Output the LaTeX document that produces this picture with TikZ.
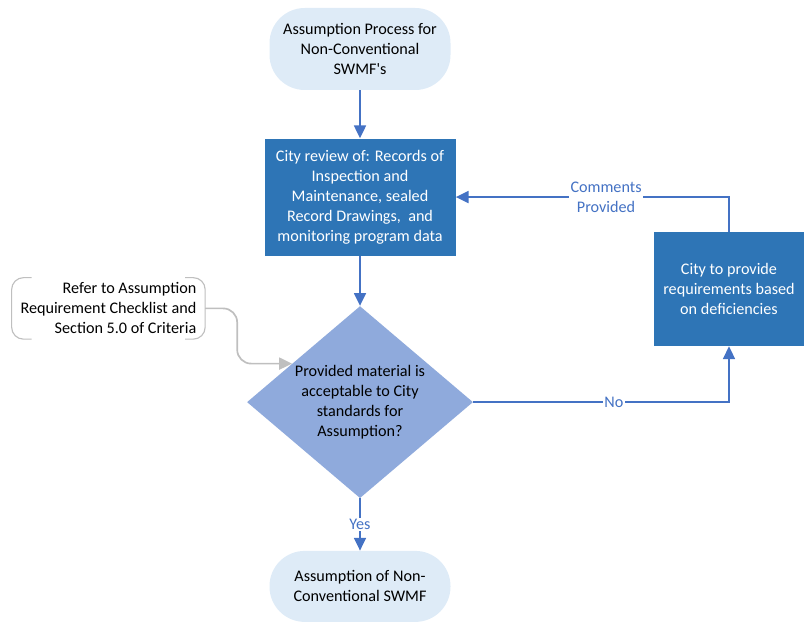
\documentclass[tikz,border=0pt]{standalone}
\usepackage{fontspec}
\setmainfont{Carlito}
\usetikzlibrary{positioning,arrows.meta,calc,shapes.geometric}
\definecolor{TermFill}{RGB}{222,235,247}
\definecolor{StepBlue}{RGB}{46,117,182}
\definecolor{DecFill}{RGB}{143,170,220}
\definecolor{LineBlue}{RGB}{68,114,196}
\definecolor{NoteGrey}{RGB}{191,191,191}
\tikzset{
  flow/.style={-{Triangle[length=3.2mm,width=3mm]},line width=1.2pt,draw=LineBlue},
  noteflow/.style={-{Triangle[length=3.2mm,width=3mm]},line width=1.2pt,draw=NoteGrey,
    rounded corners=0.35cm},
  bracket/.style={line width=0.8pt,draw=NoteGrey,rounded corners=0.3cm},
  term/.style={fill=TermFill,rounded corners=0.88cm,minimum width=4.525cm,
    align=center,inner sep=0pt},
  stepbox/.style={fill=StepBlue,text=white,align=center,inner sep=0pt},
  decision/.style={diamond,shape aspect=1.18,fill=DecFill,align=center,inner sep=0pt,
    minimum width=5.65cm,minimum height=4.8cm},
  notebox/.style={align=right,minimum width=4.825cm,minimum height=1.525cm,
    inner sep=0pt},
  flowlabel/.style={fill=white,text=LineBlue,align=center,inner sep=1pt}
}

\begin{document}
\begin{tikzpicture}[font=\fontsize{11.5}{14.2}\selectfont]
  \useasboundingbox (0,0) rectangle (20.1,-15.6);
  \node[term,minimum height=2.05cm] (start) at (9.0,-1.225) {Assumption Process for\\Non-Conventional\\SWMF\textquotesingle s};
  \node[stepbox,below=1.2cm of start,minimum width=4.775cm,minimum height=2.925cm] (review)
    {City review of: Records of\\Inspection and\\Maintenance, sealed\\Record Drawings,~ and\\monitoring program data};
  \node[decision,below=1.25cm of review] (accept)
    {Provided material is\\acceptable to City\\standards for\\Assumption?};
  \node[term,minimum height=1.775cm] (done) at (9.0,-14.66) {Assumption of Non-\\Conventional SWMF};
  \node[stepbox,minimum width=3.75cm,minimum height=2.85cm] (provide) at (18.225,-7.225)
    {City to provide\\requirements based\\on deficiencies};
  \node[notebox] (note) at (2.71,-7.71) {Refer to Assumption\\Requirement Checklist and\\Section 5.0 of Criteria};

  % annotation brackets
  \draw[bracket] ($(note.north west)+(0.5,0)$) -- (note.north west) -- (note.south west) -- ++(0.5,0);
  \draw[bracket] ($(note.north east)+(-0.5,0)$) -- (note.north east) -- (note.south east) -- ++(-0.5,0);
  \coordinate (hit) at ($(accept.west)!0.4!(accept.north)$);
  \draw[noteflow] (note.east) -- ++(0.8,0) |- (hit);

  \draw[flow] (start) -- (review);
  \draw[flow] (review) -- (accept);
  \draw[flow] (accept) -- node[flowlabel] {Yes} (done);
  \draw[flow] (accept.east) -| node[flowlabel,pos=0.275] {No} (provide.south);
  \draw[flow] (provide.north) |- node[flowlabel,pos=0.725] {Comments\\Provided} (review.east);
\end{tikzpicture}
\end{document}
